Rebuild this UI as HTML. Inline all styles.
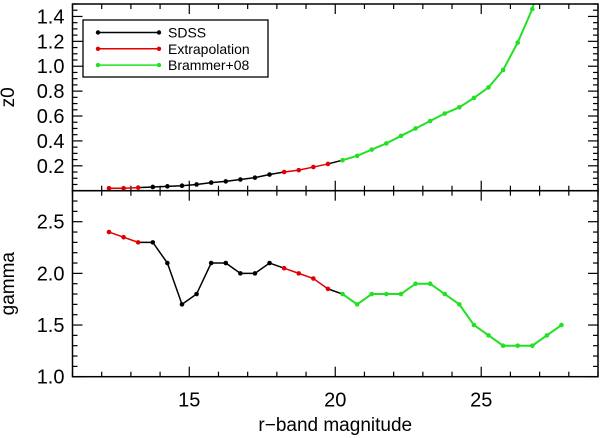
<!DOCTYPE html>
<html><head><meta charset="utf-8"><style>
html,body{margin:0;padding:0;background:#fff;}
svg{display:block;font-family:"Liberation Sans",sans-serif;}
</style></head><body>
<svg id="chart" width="600" height="438" viewBox="0 0 600 438"></svg>
<script>
const mags = [12.25,12.75,13.25,13.75,14.25,14.75,15.25,15.75,16.25,16.75,17.25,17.75,18.25,18.75,19.25,19.75,20.25,20.75,21.25,21.75,22.25,22.75,23.25,23.75,24.25,24.75,25.25,25.75,26.25,26.75,27.25,27.75];
const z0 = [0.02,0.02,0.025,0.03,0.035,0.04,0.05,0.065,0.075,0.09,0.105,0.13,0.15,0.165,0.19,0.215,0.245,0.28,0.33,0.38,0.44,0.5,0.56,0.62,0.67,0.745,0.83,0.97,1.19,1.46,1.9,2.5];
const gamma = [2.4,2.35,2.3,2.3,2.1,1.7,1.8,2.1,2.1,2.0,2.0,2.1,2.05,2.0,1.95,1.85,1.8,1.7,1.8,1.8,1.8,1.9,1.9,1.8,1.7,1.5,1.4,1.3,1.3,1.3,1.4,1.5];
const segStart = [0,2,12,15,16];
const segEnd = [2,12,15,16,31];
const segSeries = ["red","black","red","black","green"];
const xTicks = [15,20,25];
const z0Ticks = [0.2,0.4,0.6,0.8,1.0,1.2,1.4];
const gammaTicks = [1.0,1.5,2.0,2.5];
const legendLabels = ["SDSS","Extrapolation","Brammer+08"];
const legendColors = ["#000","#e00000","#22e022"];

const NS="http://www.w3.org/2000/svg";
const svg=document.getElementById('chart');
const colorOf={black:"#000",red:"#e00000",green:"#22e022"};
const L=72.5,R=598;
const xMin=11,xMax=29;
const X=v=>L+(v-xMin)/(xMax-xMin)*(R-L);
const top1=4,bot1=190.7,yMin1=0,yMax1=1.5;
const Y1=v=>bot1-(v-yMin1)/(yMax1-yMin1)*(bot1-top1);
const top2=190.7,bot2=376.7,yMin2=1.0,yMax2=2.8;
const Y2=v=>bot2-(v-yMin2)/(yMax2-yMin2)*(bot2-top2);
function mk(t,a,p){const e=document.createElementNS(NS,t);for(const k in a)e.setAttribute(k,a[k]);(p||svg).appendChild(e);return e;}

const defs=mk('defs',{});
const c1=mk('clipPath',{id:'c1'},defs);mk('rect',{x:L,y:top1,width:R-L,height:bot1-top1},c1);
const c2=mk('clipPath',{id:'c2'},defs);mk('rect',{x:L,y:top2,width:R-L,height:bot2-top2},c2);

function panel(vals,Y,top,bot,ticks,ymin,ymax,minorStep,clip,name,title,showXLabels){
  const g=mk('g',{});
  
  
  for(let v=ymin;v<=ymax+1e-9;v+=minorStep){
    const y=Y(v);const major=ticks.some(t=>Math.abs(t-v)<1e-6);
    mk('line',{x1:L,x2:L+(major?10:5),y1:y,y2:y,stroke:'#000','stroke-width':1.2},g);
    mk('line',{x1:R,x2:R-(major?10:5),y1:y,y2:y,stroke:'#000','stroke-width':1.2},g);
  }
  ticks.forEach(t=>{
    const tx=mk('text',{x:L-8,y:Y(t)+7,'text-anchor':'end','font-size':20},g);
    tx.textContent=t.toFixed(1);
    
    
  });
  for(let v=xMin;v<=xMax;v++){
    const x=X(v);const major=v%5===0;
    mk('line',{x1:x,x2:x,y1:bot,y2:bot-(major?10:5),stroke:'#000','stroke-width':1.2},g);
    mk('line',{x1:x,x2:x,y1:top,y2:top+(major?10:5),stroke:'#000','stroke-width':1.2},g);
  }
  if(showXLabels){xTicks.forEach(t=>{
    const tx=mk('text',{x:X(t),y:bot+30,'text-anchor':'middle','font-size':20},g);
    tx.textContent=t;
    
    
  });}
  const yt=mk('text',{transform:`translate(14,${(top+bot)/2}) rotate(-90)`,'text-anchor':'middle','font-size':19},g);
  yt.textContent=title;
  
  
  const sg=mk('g',{'clip-path':`url(#${clip})`},g);
  segStart.forEach((s,i)=>{
    const e=segEnd[i];const pts=[];
    for(let k=s;k<=e;k++)pts.push(X(mags[k])+','+Y(vals[k]));
    const pl=mk('polyline',{points:pts.join(' '),fill:'none',stroke:colorOf[segSeries[i]],'stroke-width':segSeries[i]==='green'?2:1.5},sg);
    
    
  });
  const pointColor=k=>{let c='black';segStart.forEach((s,i)=>{if(segSeries[i]!=='black'&&k>=s&&k<=segEnd[i])c=segSeries[i];});return c;};
  mags.forEach((m,k)=>{
    const c=mk('circle',{cx:X(m),cy:Y(vals[k]),r:2.3,fill:colorOf[pointColor(k)]},sg);
    
    
  });
  mk('rect',{x:L,y:top,width:R-L,height:bot-top,fill:'none',stroke:'#000','stroke-width':1.5},g);
}
panel(z0,Y1,top1,bot1,z0Ticks,0,1.5,0.05,'c1','z0','z0',false);
panel(gamma,Y2,top2,bot2,gammaTicks,1.0,2.8,0.1,'c2','gamma','gamma',true);

const xt=mk('text',{x:(L+R)/2,y:431,'text-anchor':'middle','font-size':19});
xt.textContent='r\u2212band magnitude';



const lg=mk('g',{});


mk('rect',{x:83,y:20,width:185,height:57,fill:'#fff',stroke:'#000','stroke-width':1.3},lg);
legendLabels.forEach((lab,i)=>{
  const y=32.5+i*16.3;
  const e=mk('g',{},lg);
  
  
  mk('line',{x1:98,x2:159,y1:y,y2:y,stroke:legendColors[i],'stroke-width':1.5},e);
  mk('circle',{cx:98,cy:y,r:2.2,fill:legendColors[i]},e);
  mk('circle',{cx:159,cy:y,r:2.2,fill:legendColors[i]},e);
  const t=mk('text',{x:168,y:y+5,'font-size':14},e);
  t.textContent=lab;
});
</script>
</body></html>
